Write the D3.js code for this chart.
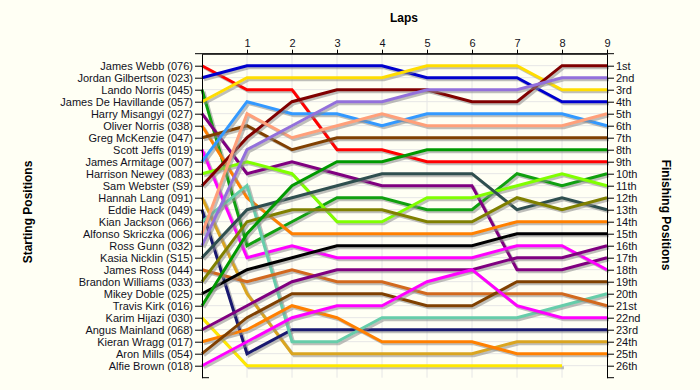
<!DOCTYPE html>
<html>
<head>
<meta charset="utf-8">
<script src="https://cdn.jsdelivr.net/npm/d3@7"></script>
<style>
  body { margin: 0; background: #fffff4; }
  svg { display: block; font-family: Arial, "Liberation Sans", sans-serif; }
</style>
</head>
<body>
<div id="chart"></div>
<script>
// Drivers in starting order (left axis)
const drivers = [
    "James Webb (076)", "Jordan Gilbertson (023)", "Lando Norris (045)", "James De Havillande (057)",
    "Harry Misangyi (027)", "Oliver Norris (038)", "Greg McKenzie (047)", "Scott Jeffs (019)",
    "James Armitage (007)", "Harrison Newey (083)", "Sam Webster (S9)", "Hannah Lang (091)",
    "Eddie Hack (049)", "Kian Jackson (066)", "Alfonso Skriczka (006)", "Ross Gunn (032)",
    "Kasia Nicklin (S15)", "James Ross (044)", "Brandon Williams (033)", "Mikey Doble (025)",
    "Travis Kirk (016)", "Karim Hijazi (030)", "Angus Mainland (068)", "Kieran Wragg (017)",
    "Aron Mills (054)", "Alfie Brown (018)"
];

const laps = [0, 1, 2, 3, 4, 5, 6, 7, 8, 9];
const lapLabels = [1, 2, 3, 4, 5, 6, 7, 8, 9];

const finishLabels = [
    "1st", "2nd", "3rd", "4th", "5th", "6th", "7th", "8th", "9th", "10th",
    "11th", "12th", "13th", "14th", "15th", "16th", "17th", "18th", "19th", "20th",
    "21st", "22nd", "23rd", "24th", "25th", "26th"
];

// Position of each driver at lap 0..9 (null = not running)
const positions = [
    [1, 3, 3, 8, 8, 9, 9, 9, 9, 9],
    [2, 1, 1, 1, 1, 2, 2, 2, 4, 4],
    [3, 16, 14, 12, 12, 13, 13, 10, 11, 10],
    [4, 2, 2, 2, 2, 1, 1, 1, 3, 3],
    [5, 10, 9, 10, 11, 11, 11, 18, 18, 17],
    [6, 12, 15, 15, 15, 15, 15, 14, 14, 14],
    [7, 6, 8, 7, 7, 7, 7, 7, 7, 7],
    [8, 17, 16, 17, 17, 17, 17, 16, 16, 18],
    [9, 4, 5, 5, 6, 5, 5, 5, 5, 6],
    [10, 9, 10, 14, 14, 12, 12, 11, 10, 11],
    [11, 7, 4, 3, 3, 3, 4, 4, 1, 1],
    [12, 20, 25, 25, 25, 25, 25, 24, 24, 24],
    [13, 25, 23, 23, 23, 23, 23, 23, 23, 23],
    [14, 11, 24, 24, 22, 22, 22, 22, 21, 20],
    [15, 5, 7, 6, 5, 6, 6, 6, 6, 5],
    [16, 8, 6, 4, 4, 3, 3, 3, 2, 2],
    [17, 13, 12, 11, 10, 10, 10, 13, 12, 13],
    [18, 19, 18, 19, 19, 20, 20, 20, 20, 21],
    [19, 14, 13, 13, 13, 14, 14, 12, 13, 12],
    [20, 18, 17, 16, 16, 16, 16, 15, 15, 15],
    [21, 15, 11, 9, 9, 8, 8, 8, 8, 8],
    [22, 26, 26, 26, 26, 26, 26, 26, 26, null],
    [23, 21, 19, 18, 18, 18, 18, 17, 17, 16],
    [24, 23, 21, 22, 24, 24, 24, 25, 25, 25],
    [25, 22, 20, 20, 20, 21, 21, 19, 19, 19],
    [26, 24, 22, 21, 21, 19, 18, 21, 22, 22]
];

// Line colours, one per driver
const colors = [
    "#ff0000", "#0000cd", "#10a010", "#ffdd00", "#800080", "#ff8000", "#804000", "#ff00ff",
    "#3399ff", "#80ff00", "#800000", "#daa520", "#191970", "#66cdaa", "#ffa07a", "#9370db",
    "#2f4f4f", "#d2691e", "#808000", "#000000",
    "#009900", "#ffe800", "#800080", "#ff8000", "#804000", "#ff00ff"
];

const width = 700;
const height = 390;

const svg = d3.select("#chart")
    .append("svg")
    .attr("width", width)
    .attr("height", height)
    .style("background", "#fffff4");

const x = d3.scaleLinear().domain([0, 9]).range([202, 607]);
const y = d3.scaleLinear().domain([0, 27]).range([53.7, 377.7]);
const rows = d3.range(1, 27);

// Grid
svg.append("g")
    .selectAll("line")
    .data(rows)
    .join("line")
    .attr("x1", x(0)).attr("x2", x(9))
    .attr("y1", d => y(d)).attr("y2", d => y(d))
    .attr("stroke", "#e6e6e6");

svg.append("g")
    .selectAll("line")
    .data(laps.slice(1, 9))
    .join("line")
    .attr("x1", d => x(d)).attr("x2", d => x(d))
    .attr("y1", y(0)).attr("y2", y(27))
    .attr("stroke", "#e6e6e6");

// Lines with drop shadow
const line = d3.line()
    .defined(d => d != null)
    .x((d, i) => x(laps[i]))
    .y(d => y(d));

const series = svg.append("g")
    .selectAll("g")
    .data(positions)
    .join("g");

series.append("path")
    .attr("d", d => line(d))
    .attr("transform", "translate(2,2)")
    .attr("fill", "none")
    .attr("stroke", "#8a8a8a")
    .attr("stroke-opacity", 0.55)
    .attr("stroke-width", 3);

series.append("path")
    .attr("d", d => line(d))
    .attr("fill", "none")
    .attr("stroke", (d, i) => colors[i])
    .attr("stroke-width", 3);

// Axes
const leftAxis = svg.append("g")
    .attr("transform", `translate(${x(0)},0)`)
    .call(d3.axisLeft(y).tickValues(rows).tickFormat(d => drivers[d - 1]).tickSize(7).tickSizeOuter(0).tickPadding(2));

const rightAxis = svg.append("g")
    .attr("transform", `translate(${x(9)},0)`)
    .call(d3.axisRight(y).tickValues(rows).tickFormat(d => finishLabels[d - 1]).tickSize(7).tickSizeOuter(0).tickPadding(2));

const topAxis = svg.append("g")
    .attr("transform", `translate(0,${y(0)})`)
    .call(d3.axisTop(x).tickValues(lapLabels).tickSize(4).tickSizeOuter(0).tickPadding(3));

svg.selectAll(".tick text")
    .attr("font-size", 11)
    .attr("font-family", "Arial, 'Liberation Sans', sans-serif")
    .attr("fill", "#111122");
svg.selectAll(".domain, .tick line").attr("stroke", "#000");

// Axis end stubs
svg.append("line")
    .attr("x1", x(0) - 7).attr("x2", x(9) + 7)
    .attr("y1", y(0)).attr("y2", y(0))
    .attr("stroke", "#000");
svg.append("line")
    .attr("x1", x(0)).attr("x2", x(0) + 7)
    .attr("y1", y(27)).attr("y2", y(27))
    .attr("stroke", "#000");
svg.append("line")
    .attr("x1", x(9)).attr("x2", x(9) + 7)
    .attr("y1", y(27)).attr("y2", y(27))
    .attr("stroke", "#000");

// Titles
svg.append("text")
    .attr("x", 404).attr("y", 22)
    .attr("text-anchor", "middle")
    .attr("font-size", 12).attr("font-weight", "bold")
    .text("Laps");

svg.append("text")
    .attr("transform", "translate(32,212) rotate(-90)")
    .attr("text-anchor", "middle")
    .attr("font-size", 12).attr("font-weight", "bold")
    .text("Starting Positions");

svg.append("text")
    .attr("transform", "translate(662,215) rotate(90)")
    .attr("text-anchor", "middle")
    .attr("font-size", 12).attr("font-weight", "bold")
    .text("Finishing Positions");
</script>
</body>
</html>
